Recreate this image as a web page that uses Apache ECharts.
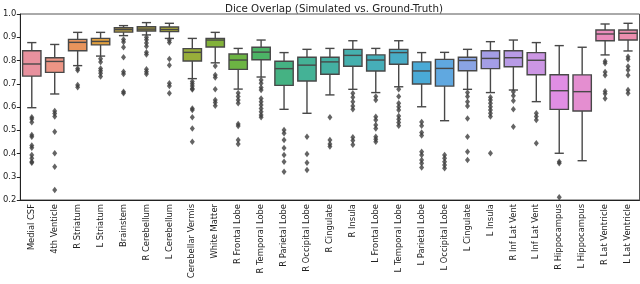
<!DOCTYPE html>
<html><head><meta charset="utf-8">
<script src="https://cdn.jsdelivr.net/npm/echarts@6/dist/echarts.min.js"></script>
<style>html,body{margin:0;padding:0;background:#fff}#c{width:640px;height:284px}</style>
</head><body><div id="c"></div>
<script>
const categories = ['Medial CSF','4th Venticle','R Striatum','L Striatum','Brainstem','R Cerebellum','L Cerebellum','Cerebellar Vermis','White Matter','R Frontal Lobe','R Temporal Lobe','R Parietal Lobe','R Occipital Lobe','R Cingulate','R Insula','L Frontal Lobe','L Temporal Lobe','L Parietal Lobe','L Occipital Lobe','L Cingulate','L Insula','R Inf Lat Vent','L Inf Lat Vent','R Hippocampus','L Hippocampus','R Lat Ventricle','L Lat Ventricle'];
const whiskerHigh = [0.877,0.869,0.921,0.921,0.950,0.963,0.960,0.895,0.921,0.852,0.888,0.834,0.848,0.852,0.885,0.852,0.885,0.834,0.835,0.848,0.881,0.888,0.877,0.864,0.857,0.957,0.960];
const q3 = [0.842,0.812,0.891,0.895,0.941,0.945,0.944,0.851,0.895,0.828,0.857,0.797,0.814,0.814,0.848,0.824,0.848,0.794,0.805,0.814,0.842,0.842,0.834,0.739,0.738,0.931,0.931];
const median = [0.785,0.796,0.878,0.882,0.933,0.935,0.933,0.835,0.888,0.802,0.836,0.765,0.780,0.794,0.822,0.802,0.834,0.755,0.766,0.800,0.809,0.812,0.801,0.670,0.666,0.914,0.917];
const q1 = [0.733,0.749,0.842,0.867,0.922,0.927,0.924,0.798,0.858,0.762,0.803,0.693,0.712,0.741,0.775,0.755,0.784,0.699,0.690,0.756,0.765,0.773,0.739,0.590,0.583,0.885,0.888];
const whiskerLow = [0.597,0.656,0.778,0.819,0.907,0.910,0.895,0.722,0.790,0.677,0.729,0.590,0.573,0.652,0.676,0.662,0.687,0.601,0.541,0.676,0.662,0.673,0.623,0.401,0.369,0.824,0.841];
const outliers = [
 [0.556,0.548,0.534,0.480,0.472,0.434,0.425,0.394,0.380,0.365,0.360],
 [0.583,0.572,0.559,0.494,0.401,0.343,0.243],
 [0.766,0.758,0.695,0.685],
 [0.808,0.794,0.766,0.756,0.745,0.731],
 [0.890,0.880,0.857,0.814,0.752,0.742,0.666,0.659],
 [0.900,0.889,0.875,0.861,0.835,0.826,0.762,0.752,0.742],
 [0.888,0.877,0.806,0.780,0.702,0.690,0.659],
 [0.710,0.700,0.690,0.680,0.675,0.594,0.587,0.556,0.508,0.451],
 [0.776,0.738,0.727,0.676,0.630,0.619,0.605],
 [0.660,0.645,0.630,0.616,0.527,0.518,0.458,0.441],
 [0.716,0.702,0.684,0.673,0.637,0.623,0.609,0.594,0.580,0.566,0.556],
 [0.501,0.487,0.458,0.424,0.394,0.365,0.322],
 [0.472,0.398,0.360,0.329],
 [0.556,0.458,0.441,0.430],
 [0.659,0.642,0.623,0.604,0.590,0.470,0.456,0.438],
 [0.645,0.630,0.558,0.544,0.523,0.508,0.472,0.461,0.451],
 [0.676,0.645,0.616,0.601,0.587,0.561,0.547,0.533,0.519],
 [0.535,0.519,0.490,0.477,0.408,0.394,0.372,0.358,0.340],
 [0.394,0.380,0.365,0.351,0.337],
 [0.662,0.645,0.623,0.604,0.551,0.472,0.408,0.372],
 [0.642,0.630,0.616,0.601,0.587,0.573,0.559,0.401],
 [0.666,0.648,0.627,0.590,0.515],
 [0.573,0.559,0.544,0.444],
 [0.365,0.358,0.212],
 [],
 [0.797,0.788,0.751,0.737,0.668,0.657,0.637],
 [0.816,0.805,0.774,0.759,0.737,0.673,0.659]
];
const yTicks = [0.2,0.3,0.4,0.5,0.6,0.7,0.8,0.9,1.0];
const colors = ['#e8919e','#ec9585','#e8945c','#e0a040','#b8a044','#aea23c','#a8a838','#98ae3a','#82b23a','#6cb443','#4cb466','#45b283','#44b296','#44b0a2','#45b0ae','#46aeb8','#48acc6','#4aaad6','#60a8e0','#8aa4e4','#a49ee6','#b89be6','#cc96e4','#e08ee4','#e48ed0','#ea8cbc','#ec8eae'];

const boxData = categories.map((c,i)=>[i, whiskerLow[i], q1[i], median[i], q3[i], whiskerHigh[i]]);
const outData = [];
outliers.forEach((arr,i)=>arr.forEach(v=>outData.push([i,v])));

const LINE = '#484848';
function renderBox(params, api){
  const i = api.value(0);
  const band = api.size([1,0])[0];
  const bw = band*0.8, cw = bw/2;
  const pL = api.coord([i, api.value(1)]);
  const p1 = api.coord([i, api.value(2)]);
  const pm = api.coord([i, api.value(3)]);
  const p3 = api.coord([i, api.value(4)]);
  const pH = api.coord([i, api.value(5)]);
  const x = pm[0];
  const ls = {stroke: LINE, lineWidth: 1.4};
  return {type:'group', children:[
    {type:'line', shape:{x1:x,y1:pL[1],x2:x,y2:p1[1]}, style:ls},
    {type:'line', shape:{x1:x,y1:p3[1],x2:x,y2:pH[1]}, style:ls},
    {type:'line', shape:{x1:x-cw/2,y1:pL[1],x2:x+cw/2,y2:pL[1]}, style:ls},
    {type:'line', shape:{x1:x-cw/2,y1:pH[1],x2:x+cw/2,y2:pH[1]}, style:ls},
    {type:'rect', shape:{x:x-bw/2,y:p3[1],width:bw,height:p1[1]-p3[1]}, style:{fill:colors[params.dataIndex], stroke:LINE, lineWidth:1.4}},
    {type:'line', shape:{x1:x-bw/2,y1:pm[1],x2:x+bw/2,y2:pm[1]}, style:ls}
  ]};
}

const chart = echarts.init(document.getElementById('c'), null, {renderer:'canvas'});
chart.setOption({
  animation:false,
  title:{text:'Dice Overlap (Simulated vs. Ground-Truth)', left:329, top:-1, textAlign:'center',
    textStyle:{fontFamily:'DejaVu Sans', fontSize:10.3, fontWeight:'normal', color:'#222'}},
  grid:{left:18.5, right:0.5, top:14, bottom:84, show:true, borderColor:'#555', borderWidth:1, backgroundColor:'transparent'},
  xAxis:{type:'category', data:categories, boundaryGap:true,
    axisLine:{lineStyle:{color:'#222', width:1}},
    axisTick:{alignWithLabel:true, interval:0, length:3.5, lineStyle:{color:'#222'}},
    axisLabel:{interval:0, rotate:90, margin:4, fontFamily:'DejaVu Sans', fontSize:8.4, color:'#222'},
    splitLine:{show:false}},
  yAxis:{type:'value', min:0.2, max:1.0, interval:0.1,
    axisLine:{show:true, lineStyle:{color:'#222', width:1}},
    axisTick:{show:true, length:3.5, lineStyle:{color:'#222'}},
    axisLabel:{margin:4, fontFamily:'DejaVu Sans', fontSize:8.4, color:'#222', formatter:v=>v.toFixed(1)},
    splitLine:{show:false}},
  series:[
    {type:'custom', renderItem:renderBox, data:boxData, encode:{x:0, y:[1,2,3,4,5]}, z:2},
    {type:'scatter', data:outData, symbol:'diamond', symbolSize:[5,6.5], itemStyle:{color:'#3d3d3d'}, z:3}
  ]
});
</script></body></html>
